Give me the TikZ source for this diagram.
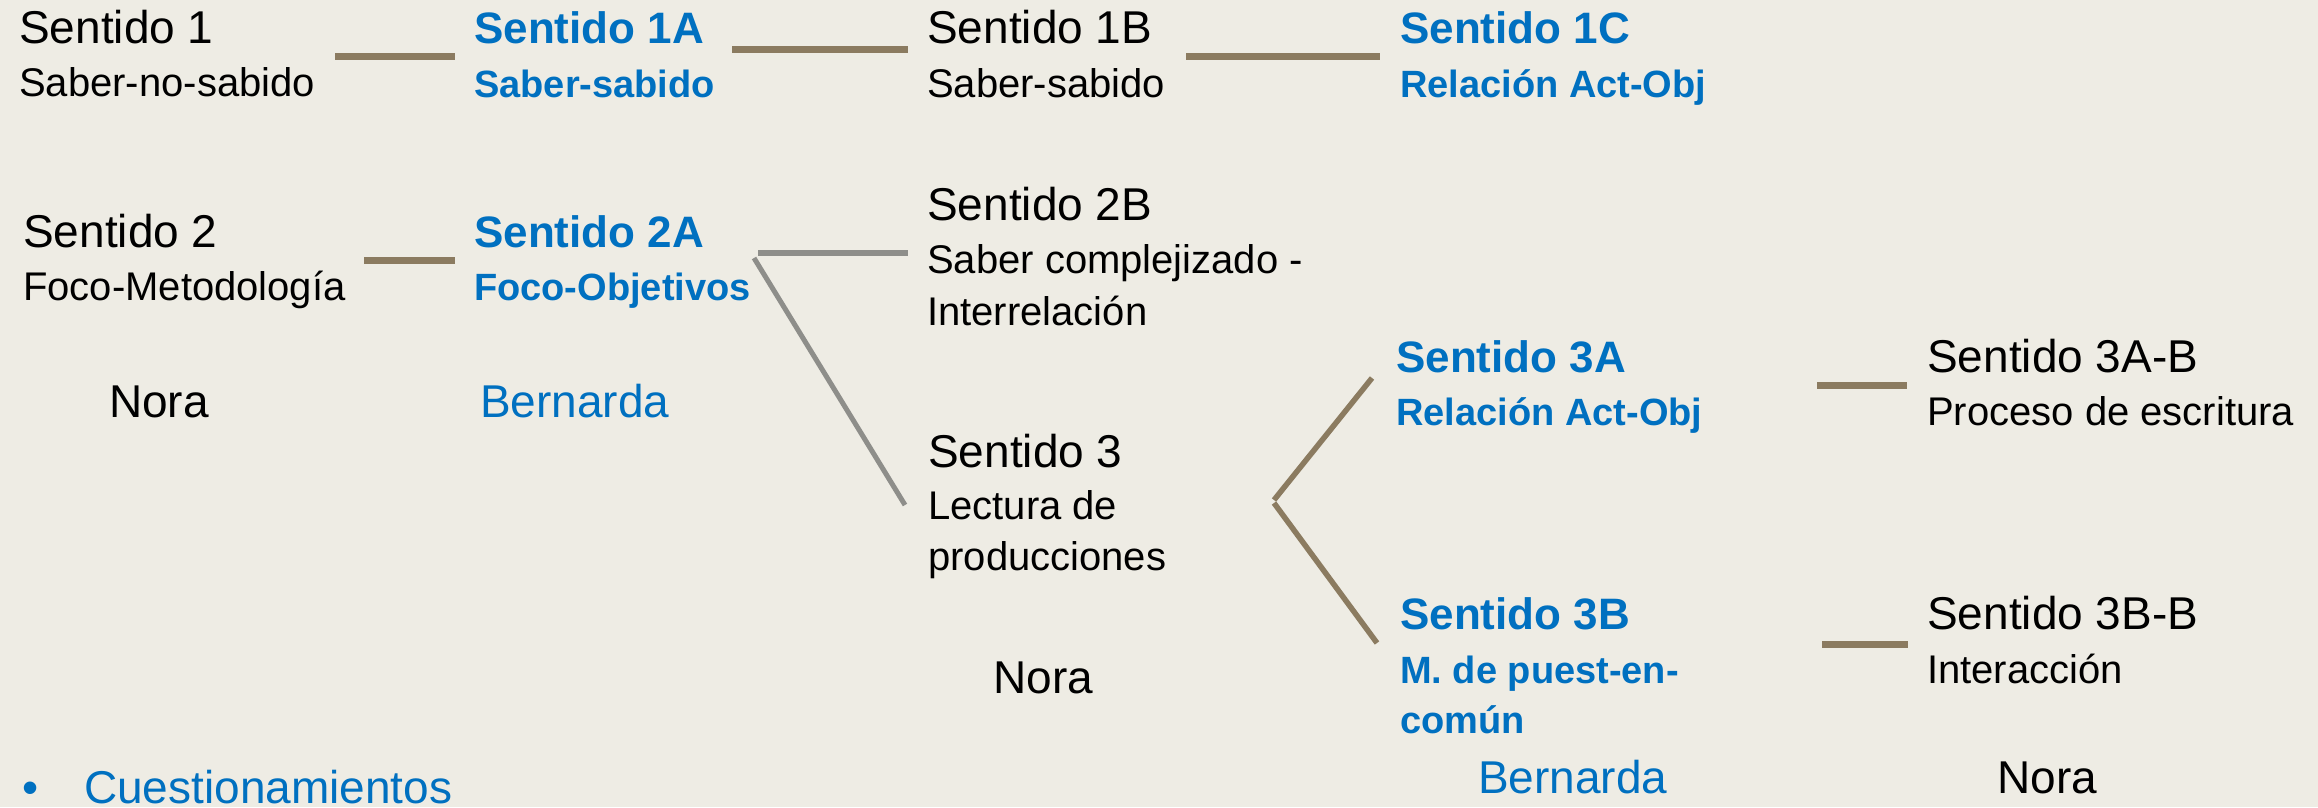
\documentclass[tikz,border=0pt]{standalone}
\usepackage{fontspec}
\setmainfont{Liberation Sans}
\definecolor{bg}{HTML}{EEECE4}
\definecolor{ttblue}{HTML}{0070C0}
\definecolor{lnbrown}{HTML}{8B7B60}
\definecolor{lngray}{HTML}{8E8E8A}
\tikzset{
  tone/.style={anchor=base west, inner sep=0pt, font=\fontsize{46}{50}\selectfont},
  ttwo/.style={anchor=base west, inner sep=0pt, font=\fontsize{40}{44}\selectfont},
  bone/.style={anchor=base west, inner sep=0pt, text=ttblue, font=\bfseries\fontsize{44}{48}\selectfont},
  btwo/.style={anchor=base west, inner sep=0pt, text=ttblue, font=\bfseries\fontsize{38}{42}\selectfont},
  who/.style={anchor=base west, inner sep=0pt, font=\fontsize{46}{50}\selectfont},
  whob/.style={who, text=ttblue},
  brownln/.style={draw=lnbrown, line width=7pt},
  browndiag/.style={draw=lnbrown, line width=5.5pt},
  grayln/.style={draw=lngray, line width=6pt},
  graydiag/.style={draw=lngray, line width=5pt}
}
\begin{document}
\begin{tikzpicture}[x=1pt,y=-1pt]
\fill[bg] (0,0) rectangle (2318,807);
\useasboundingbox (0,0) rectangle (2318,807);
% row 1
\node[tone] (s1) at (19,43) {Sentido 1};
\node[ttwo] (s1s) at (19,96) {Saber-no-sabido};
\node[bone] (s1a) at (474,43) {Sentido 1A};
\node[btwo] (s1as) at (474,97) {Saber-sabido};
\node[tone] (s1b) at (927,43) {Sentido 1B};
\node[ttwo] (s1bs) at (927,97) {Saber-sabido};
\node[bone] (s1c) at (1400,43) {Sentido 1C};
\node[btwo] (s1cs) at (1400,97) {Relación Act-Obj};
% row 2
\node[tone] (s2) at (23,247) {Sentido 2};
\node[ttwo] (s2s) at (23,300) {Foco-Metodología};
\node[bone] (s2a) at (474,247) {Sentido 2A};
\node[btwo] (s2as) at (474,300) {Foco-Objetivos};
\node[tone] (s2b) at (927,220) {Sentido 2B};
\node[ttwo] (s2bs) at (927,273) {Saber complejizado -};
\node[ttwo] (s2bt) at (927,325) {Interrelación};
\node[who] (nora1) at (109,417) {Nora};
\node[whob] (bern1) at (480,417) {Bernarda};
% row 3
\node[tone] (s3) at (928,467) {Sentido 3};
\node[ttwo] (s3s) at (928,519) {Lectura de};
\node[ttwo] (s3t) at (928,570) {producciones};
\node[who] (nora2) at (993,693) {Nora};
\node[bone] (s3a) at (1396,372) {Sentido 3A};
\node[btwo] (s3as) at (1396,425) {Relación Act-Obj};
\node[tone] (s3ab) at (1927,372) {Sentido 3A-B};
\node[ttwo] (s3abs) at (1927,425) {Proceso de escritura};
\node[bone] (s3b) at (1400,629) {Sentido 3B};
\node[btwo] (s3bs) at (1400,683) {M. de puest-en-};
\node[btwo] (s3bt) at (1400,733) {común};
\node[whob] (bern2) at (1478,793) {Bernarda};
\node[tone] (s3bb) at (1927,629) {Sentido 3B-B};
\node[ttwo] (s3bbs) at (1927,683) {Interacción};
\node[who] (nora3) at (1997,793) {Nora};
% bullet
\node[whob] (bul) at (22,803) {•};
\node[whob] (cuest) at (84,803) {Cuestionamientos};
% connectors
\coordinate (c1a) at (335,56.5); \coordinate (c1b) at (455,56.5);
\coordinate (c2a) at (732,49.5); \coordinate (c2b) at (908,49.5);
\coordinate (c3a) at (1186,56); \coordinate (c3b) at (1380,56);
\coordinate (c4a) at (364,260); \coordinate (c4b) at (455,260);
\coordinate (c5a) at (758,253); \coordinate (c5b) at (908,253);
\coordinate (c6a) at (754,258); \coordinate (c6b) at (905,505);
\coordinate (c7a) at (1274,500); \coordinate (c7b) at (1372,378);
\coordinate (c8a) at (1274,503); \coordinate (c8b) at (1377,643);
\coordinate (c9a) at (1817,385.5); \coordinate (c9b) at (1907,385.5);
\coordinate (c10a) at (1822,644); \coordinate (c10b) at (1908,644);
\draw[brownln] (c1a) -- (c1b);
\draw[brownln] (c2a) -- (c2b);
\draw[brownln] (c3a) -- (c3b);
\draw[brownln] (c4a) -- (c4b);
\draw[grayln] (c5a) -- (c5b);
\draw[graydiag] (c6a) -- (c6b);
\draw[browndiag] (c7a) -- (c7b);
\draw[browndiag] (c8a) -- (c8b);
\draw[brownln] (c9a) -- (c9b);
\draw[brownln] (c10a) -- (c10b);
\end{tikzpicture}
\end{document}
